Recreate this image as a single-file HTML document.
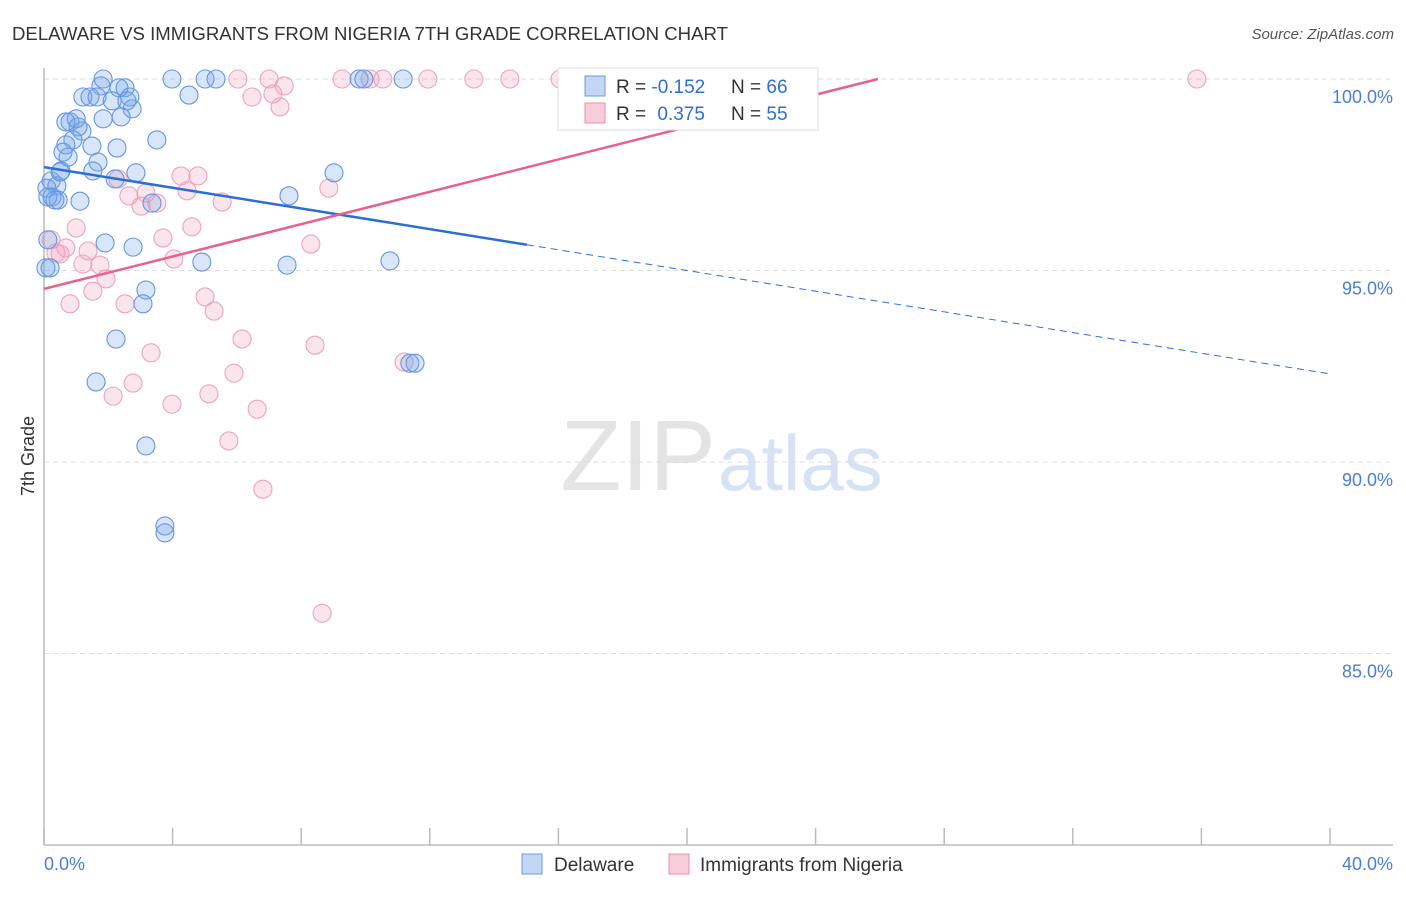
<!DOCTYPE html>
<html><head><meta charset="utf-8"><style>
body{margin:0;background:#fff;font-family:"Liberation Sans",sans-serif;}
svg text{font-family:"Liberation Sans",sans-serif;}
</style></head><body>
<svg id="chart" width="1406" height="892" xmlns="http://www.w3.org/2000/svg">
<text x="12" y="40" font-size="18.6" fill="#333">DELAWARE VS IMMIGRANTS FROM NIGERIA 7TH GRADE CORRELATION CHART</text>
<text x="1394" y="39" font-size="15" fill="#555" text-anchor="end" font-style="italic">Source: ZipAtlas.com</text>
<text x="716" y="490" font-size="100" fill="#e4e4e4" text-anchor="end" font-family="Liberation Serif">ZIP</text>
<text x="718" y="490" font-size="78" fill="#d7e3f5">atlas</text>
<text transform="translate(34,456) rotate(-90)" font-size="18" fill="#333" text-anchor="middle">7th Grade</text>
<g id="grid"></g><g id="axes"></g><g id="marks"></g><g id="lines"></g>
<g>
<rect x="558" y="68" width="260" height="62" fill="#fff" stroke="#ddd"/>
<rect x="585" y="76" width="20" height="20" fill="#c3d6f5" stroke="#6b9be3"/>
<rect x="585" y="103" width="20" height="20" fill="#f8ccd9" stroke="#ea8fab"/>
<text x="616" y="93" font-size="19" fill="#333">R = <tspan fill="#2f6fd6">-0.152</tspan><tspan x="731">N = </tspan><tspan fill="#2f6fd6">66</tspan></text>
<text x="616" y="120" font-size="19" fill="#333">R = <tspan fill="#2f6fd6" dx="6">0.375</tspan><tspan x="731">N = </tspan><tspan fill="#2f6fd6">55</tspan></text>
</g>
<g>
<rect x="522" y="854" width="20" height="20" fill="#c3d6f5" stroke="#6b9be3"/>
<text x="554" y="871" font-size="19" fill="#333">Delaware</text>
<rect x="669" y="854" width="20" height="20" fill="#f8ccd9" stroke="#ea8fab"/>
<text x="700" y="871" font-size="19" fill="#333">Immigrants from Nigeria</text>
</g>
</svg>
<script>
const yTicks=[100,95,90,85];
const xTickVals=[0,4,8,12,16,20,24,28,32,36,40];
const blueX=[1.84,3.98,5.01,5.35,9.80,9.95,11.17,1.77,2.52,2.33,1.21,1.43,1.65,2.67,2.12,4.51,2.58,2.74,2.40,1.84,0.81,1.00,0.68,1.18,1.06,3.51,0.90,0.68,1.49,2.27,0.59,0.75,1.68,1.52,0.53,2.86,2.21,0.22,0.40,0.09,0.25,0.44,1.12,3.36,7.62,9.02,0.12,1.90,2.77,4.91,7.56,10.76,0.06,3.17,3.08,2.24,1.62,3.17,3.76,3.76,11.38,11.54,0.50,0.12,0.19,0.34];
const blueY=[100,100,100,100,100,100,100,99.82,99.77,99.77,99.53,99.53,99.53,99.53,99.43,99.58,99.43,99.22,99.01,98.96,98.88,98.96,98.88,98.64,98.75,98.41,98.41,98.28,98.25,98.20,98.09,97.96,97.83,97.60,97.60,97.55,97.39,97.34,97.21,97.15,96.92,96.84,96.81,96.76,96.95,97.55,95.80,95.72,95.61,95.22,95.14,95.25,95.07,94.49,94.13,93.21,92.09,90.42,88.33,88.15,92.58,92.58,97.57,96.92,95.07,96.84];
const pinkX=[6.03,7.00,9.27,10.14,10.54,11.94,13.37,14.49,16.05,16.67,35.86,7.47,6.47,7.12,7.34,4.26,4.79,2.30,8.86,4.45,2.64,3.17,3.02,3.51,5.54,4.60,1.00,3.70,8.30,0.22,0.68,1.37,0.37,0.50,1.21,1.74,4.04,1.93,1.52,0.81,2.52,5.01,5.29,6.16,8.43,3.33,5.91,2.77,11.20,2.15,3.98,5.13,6.63,5.75,6.81,8.65];
const pinkY=[100,100,100,100,100,100,100,100,100,100,100,99.82,99.53,99.61,99.27,97.47,97.47,97.39,97.15,97.08,96.95,97.02,96.68,96.76,96.79,96.14,96.11,95.85,95.69,95.80,95.59,95.51,95.46,95.43,95.17,95.14,95.30,94.78,94.46,94.13,94.13,94.31,93.94,93.21,93.05,92.85,92.32,92.06,92.61,91.72,91.51,91.78,91.38,90.55,89.29,86.05];
const blueFit=[97.70,92.30];
const blueSolidEnd=15.02;
const pinkFit=[94.52,100];
const pinkEndX=25.94;
const X0=44,X1=1330,Y100=79,PXY=38.3;
const sx=v=>X0+(v/40)*(X1-X0);
const sy=v=>Y100+(100-v)*PXY;
const NS='http://www.w3.org/2000/svg';
function mk(tag,attrs,parent){const e=document.createElementNS(NS,tag);for(const k in attrs)e.setAttribute(k,attrs[k]);parent.appendChild(e);return e;}
const grid=document.getElementById('grid'),axes=document.getElementById('axes'),marks=document.getElementById('marks'),lines=document.getElementById('lines');
yTicks.forEach(t=>{
 const l=mk('line',{x1:X0,x2:1393,y1:sy(t),y2:sy(t),stroke:'#ddd','stroke-dasharray':'5,4'},grid);
 
 
 const tx=mk('text',{x:1393,y:sy(t)+24,'font-size':18,fill:'#4a7fd6','text-anchor':'end'},axes);
 tx.textContent=t.toFixed(1)+'%';
 
 
});
const ya=mk('line',{x1:X0,x2:X0,y1:68,y2:845,stroke:'#bbb','stroke-width':1.5},axes);


const xa=mk('line',{x1:X0,x2:1393,y1:845,y2:845,stroke:'#bbb','stroke-width':1.5},axes);


xTickVals.forEach(t=>{
 const l=mk('line',{x1:sx(t),x2:sx(t),y1:828,y2:845,stroke:'#bbb','stroke-width':1.5},axes);
 
 
});
[[0,'start'],[40,'end']].forEach(([v,a])=>{
 const tx=mk('text',{x:v===0?sx(0):1393,y:870,'font-size':18,fill:'#4a7fd6','text-anchor':a},axes);
 tx.textContent=v.toFixed(1)+'%';
 
 
});
pinkX.forEach((x,i)=>{
 const c=mk('circle',{cx:sx(x),cy:sy(pinkY[i]),r:9,fill:'rgba(242,160,188,0.28)',stroke:'#eea3bb','stroke-width':1.1},marks);
 
 
});
blueX.forEach((x,i)=>{
 const c=mk('circle',{cx:sx(x),cy:sy(blueY[i]),r:9,fill:'rgba(120,165,235,0.28)',stroke:'#6496e2','stroke-width':1.1},marks);
 
 
});
const bAt=x=>blueFit[0]+(blueFit[1]-blueFit[0])*x/40;
let l1=mk('line',{x1:sx(0),y1:sy(bAt(0)),x2:sx(blueSolidEnd),y2:sy(bAt(blueSolidEnd)),stroke:'#2a6fd8','stroke-width':2.5},lines);


let l2=mk('line',{x1:sx(blueSolidEnd),y1:sy(bAt(blueSolidEnd)),x2:sx(40),y2:sy(bAt(40)),stroke:'#2a6fd8','stroke-width':1,'stroke-dasharray':'7,5'},lines);


let l3=mk('line',{x1:sx(0),y1:sy(pinkFit[0]),x2:sx(pinkEndX),y2:sy(pinkFit[1]),stroke:'#e8618c','stroke-width':2.5},lines);


</script>
</body></html>
